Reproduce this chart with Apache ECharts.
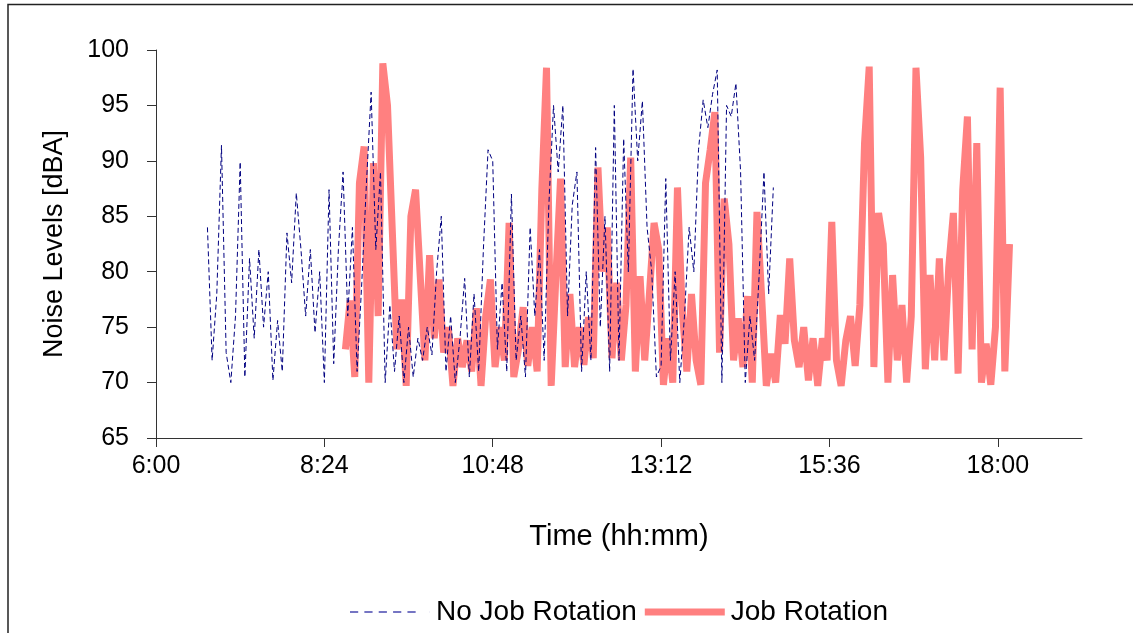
<!DOCTYPE html>
<html>
<head>
<meta charset="utf-8">
<title>Noise Levels</title>
<script src="https://cdn.jsdelivr.net/npm/echarts@6.0.0/dist/echarts.min.js"></script>
<style>
    html, body {margin: 0; padding: 0; background: #fff;}
    #main {width: 1133px; height: 633px;}
</style>
</head>
<body>
<div id="main"></div>
<script>
// sampling: one reading every 4 min, times in minutes after midnight
var sampleStep = 4;
var noRotStart = 404;   // 6:44
var rotStart = 522;     // 8:42

// No Job Rotation [dBA]
var noRotValues = [
    84, 72, 78, 91.4, 72.7, 70, 76, 89.9, 70.5, 81.2,
    74, 82, 75, 80, 70.2, 75.6, 71, 83.5, 79, 87.1,
    82, 76, 82, 74.5, 80, 70, 87.4, 71.7, 82, 89,
    76, 84, 71, 79, 88, 96.2, 82, 89, 70, 77,
    71, 76, 70, 75, 70.5, 74, 72, 75, 72.5, 80,
    85, 71, 76, 70, 74, 79.4, 70.5, 78, 71, 82,
    91, 90, 73, 79, 71, 87, 72, 76, 70.5, 84,
    76, 82, 72, 86, 95, 89, 95, 76, 86, 89,
    71, 80, 72, 91.2, 75, 85, 71, 95, 72, 92,
    80, 98.3, 90, 95.4, 84, 80, 70.5, 71.5, 88.4, 72,
    80, 70, 76, 84, 80, 91, 95.5, 93, 96, 98.2,
    70, 95, 94, 97, 89, 70, 76, 72, 80, 89,
    78, 87.6
];

// Job Rotation [dBA]
var rotValues = [
    73, 77.4, 70.5, 88, 91.3, 70, 89.8, 76, 98.8, 95,
    84, 73, 77.5, 69.7, 85, 87.4, 79.6, 72, 81.5, 74,
    79.3, 72.7, 75, 69.7, 74, 71.4, 73.8, 71, 76.7, 69.7,
    76, 79.3, 71.4, 75, 72, 84.4, 70.5, 73, 76.8, 71.5,
    75, 71, 87.4, 98.4, 69.7, 79.5, 88.4, 71.4, 78, 71.4,
    75, 71.6, 75.9, 72.2, 89.4, 80, 84, 72.2, 79, 72,
    77, 90.3, 71, 79.6, 72, 78, 84.4, 82, 69.8, 74,
    70, 87.6, 76.7, 71, 78, 72, 69.8, 88, 91, 94.4,
    72.7, 86.6, 82.5, 72, 75.8, 71.4, 77.8, 70, 85.4, 77.8,
    69.7, 72.6, 70, 76.1, 73.5, 81.2, 73.8, 71.4, 75, 70.2,
    74, 69.7, 74, 72, 84.5, 72, 69.7, 73.8, 76, 71.5,
    77, 91.6, 98.5, 71.4, 85.3, 82.5, 70, 79.7, 72, 77,
    70, 76, 98.4, 90.3, 71.2, 79.7, 72, 81.2, 72, 80.4,
    85.3, 70.8, 87.4, 94, 73, 91.6, 70, 73.5, 69.8, 75,
    96.6, 71, 82.5
];

// x ticks: 6:00, 8:24, 10:48, 13:12, 15:36, 18:00
var timeTicks = [360, 504, 648, 792, 936, 1080];

var font = 'Liberation Sans, Arial, sans-serif';

// legend glyph: five short dashes inside an 80px key (tiny sliver at the end keeps the box width)
var dashIcon = 'path://M2,0h8v1.4h-8z M16,0h8v1.4h-8z M30,0h8v1.4h-8z M44,0h8v1.4h-8z M58,0h8v1.4h-8z M79.9,0h0.1v1.4h-0.1z';

function toPairs(start, values) {
    var out = [];
    for (var i = 0; i < values.length; i++) {
        out.push([start + i * sampleStep, values[i]]);
    }
    return out;
}

function hhmm(v) {
    var h = Math.floor(v / 60), m = Math.round(v % 60);
    return h + ':' + (m < 10 ? '0' : '') + m;
}

var myChart = echarts.init(document.getElementById('main'));

var option = {
    backgroundColor: '#fff',
    animation: false,
    textStyle: {fontFamily: font, color: '#000'},
    graphic: [{
        type: 'rect',
        shape: {x: 8, y: 4.5, width: 1300, height: 800},
        style: {fill: 'none', stroke: '#222', lineWidth: 1.5},
        silent: true
    }],
    grid: {
        left: 156,
        top: 50,
        right: 51,
        bottom: 195,
        containLabel: false
    },
    legend: {
        left: 345,
        top: 593,
        itemWidth: 80,
        itemHeight: 7,
        itemGap: 8,
        textStyle: {fontFamily: font, fontSize: 28, color: '#000', padding: [0, 0, 0, 1]},
        data: [
            {name: 'No Job Rotation', icon: dashIcon, itemStyle: {color: '#4848b0'}},
            {name: 'Job Rotation', icon: 'rect', itemStyle: {color: '#ff8080'}}
        ]
    },
    xAxis: {
        type: 'value',
        min: 360,
        max: 1152,
        interval: 144,
        name: 'Time (hh:mm)',
        nameLocation: 'middle',
        nameGap: 84,
        nameTextStyle: {fontFamily: font, fontSize: 29, color: '#000'},
        axisLine: {lineStyle: {color: '#333', width: 1}},
        axisTick: {show: true, length: 9, lineStyle: {color: '#333'}, customValues: timeTicks},
        axisLabel: {
            fontFamily: font, fontSize: 25, color: '#000', margin: 16,
            customValues: timeTicks,
            formatter: hhmm
        },
        splitLine: {show: false}
    },
    yAxis: {
        type: 'value',
        min: 65,
        max: 100,
        interval: 5,
        name: 'Noise Levels [dBA]',
        nameLocation: 'middle',
        nameGap: 88,
        nameTextStyle: {fontFamily: font, fontSize: 27, color: '#000'},
        axisLine: {show: true, lineStyle: {color: '#333', width: 1}},
        axisTick: {show: true, length: 9, lineStyle: {color: '#333'}},
        axisLabel: {fontFamily: font, fontSize: 25, color: '#000', margin: 27},
        splitLine: {show: false}
    },
    series: [{
        name: 'No Job Rotation',
        type: 'line',
        data: toPairs(noRotStart, noRotValues),
        showSymbol: false,
        symbol: 'none',
        z: 3,
        lineStyle: {color: '#000080', width: 1, type: [5, 3]},
        itemStyle: {color: '#000080'}
    }, {
        name: 'Job Rotation',
        type: 'line',
        data: toPairs(rotStart, rotValues),
        showSymbol: false,
        symbol: 'none',
        z: 2,
        lineStyle: {color: '#ff8080', width: 7},
        itemStyle: {color: '#ff8080'}
    }]
};

myChart.setOption(option);
</script>
</body>
</html>
